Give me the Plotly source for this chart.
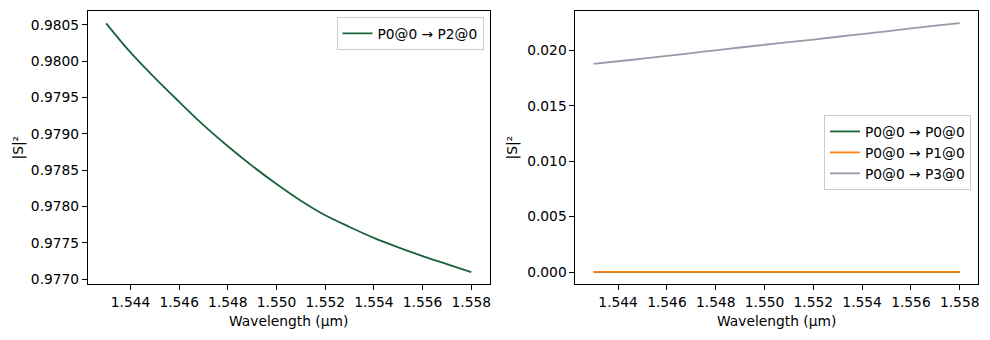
import plotly.graph_objects as go

wavelength = [1.543, 1.544, 1.545, 1.546, 1.547, 1.548, 1.549, 1.550,
              1.551, 1.552, 1.553, 1.554, 1.555, 1.556, 1.557, 1.558]
s_p2 = [0.98052, 0.98012, 0.97977, 0.97944, 0.97912, 0.97883, 0.97856, 0.97831,
        0.97808, 0.97788, 0.97772, 0.97757, 0.97744, 0.97732, 0.97721, 0.97710]
s_p0 = [0.00001] * 16
s_p1 = [0.00001] * 16
s_p3 = [0.01880, 0.01903, 0.01926, 0.01951, 0.01976, 0.02002, 0.02027, 0.02052,
        0.02076, 0.02099, 0.02124, 0.02148, 0.02173, 0.02199, 0.02224, 0.02248]

GREEN = "#18643a"
ORANGE = "#ff7f0e"
GRAY = "#9b99a9"
FONT = "DejaVu Sans"
FS = 13.8

fig = go.Figure()
fig.add_trace(go.Scatter(x=wavelength, y=s_p2, mode="lines", name="P0@0 → P2@0",
                         line=dict(color=GREEN, width=1.8, shape="spline", smoothing=1.0),
                         xaxis="x", yaxis="y", legend="legend"))
fig.add_trace(go.Scatter(x=wavelength, y=s_p0, mode="lines", name="P0@0 → P0@0",
                         line=dict(color=GREEN, width=1.8), xaxis="x2", yaxis="y2",
                         legend="legend2"))
fig.add_trace(go.Scatter(x=wavelength, y=s_p1, mode="lines", name="P0@0 → P1@0",
                         line=dict(color=ORANGE, width=1.8), xaxis="x2", yaxis="y2",
                         legend="legend2"))
fig.add_trace(go.Scatter(x=wavelength, y=s_p3, mode="lines", name="P0@0 → P3@0",
                         line=dict(color=GRAY, width=1.8, shape="spline", smoothing=1.0),
                         xaxis="x2", yaxis="y2", legend="legend2"))

axis_common = dict(showline=True, linecolor="black", linewidth=1, mirror=True,
                   ticks="outside", ticklen=5, tickwidth=1, tickcolor="black",
                   showgrid=False, zeroline=False,
                   tickfont=dict(family=FONT, size=FS, color="black"))

H = 340.0
W = 990.0
ydom = [1 - 287 / H, 1 - 11 / H]

fig.update_layout(
    width=990, height=340,
    margin=dict(l=0, r=0, t=0, b=0),
    paper_bgcolor="white", plot_bgcolor="white",
    font=dict(family=FONT, size=FS, color="black"),
    xaxis=dict(domain=[88 / W, 490 / W], anchor="y", range=[1.54225, 1.55875],
               dtick=0.002, tick0=1.544, tickformat=".3f",
               title=dict(text="Wavelength (µm)", standoff=7,
                          font=dict(family=FONT, size=FS)), **axis_common),
    yaxis=dict(domain=ydom, anchor="x", range=[0.976929, 0.980691],
               dtick=0.0005, tick0=0.977, tickformat=".4f",
               title=dict(text="|S|²", standoff=4,
                          font=dict(family=FONT, size=FS)), **axis_common),
    xaxis2=dict(domain=[576 / W, 979 / W], anchor="y2", range=[1.54225, 1.55875],
                dtick=0.002, tick0=1.544, tickformat=".3f",
                title=dict(text="Wavelength (µm)", standoff=7,
                           font=dict(family=FONT, size=FS)), **axis_common),
    yaxis2=dict(domain=ydom, anchor="x2", range=[-0.001125, 0.023575],
                dtick=0.005, tick0=0, tickformat=".3f",
                title=dict(text="|S|²", standoff=6,
                           font=dict(family=FONT, size=FS)), **axis_common),
    legend=dict(x=484 / W, y=1 - 17 / H, xanchor="right", yanchor="top",
                bgcolor="rgba(255,255,255,0.8)", bordercolor="#cccccc", borderwidth=1,
                font=dict(family=FONT, size=FS), itemwidth=30, tracegroupgap=0),
    legend2=dict(x=972 / W, y=1 - 116 / H, xanchor="right", yanchor="top",
                 bgcolor="rgba(255,255,255,0.8)", bordercolor="#cccccc", borderwidth=1,
                 font=dict(family=FONT, size=FS), itemwidth=30, tracegroupgap=0),
    showlegend=True,
)

fig.write_html("out.html")
